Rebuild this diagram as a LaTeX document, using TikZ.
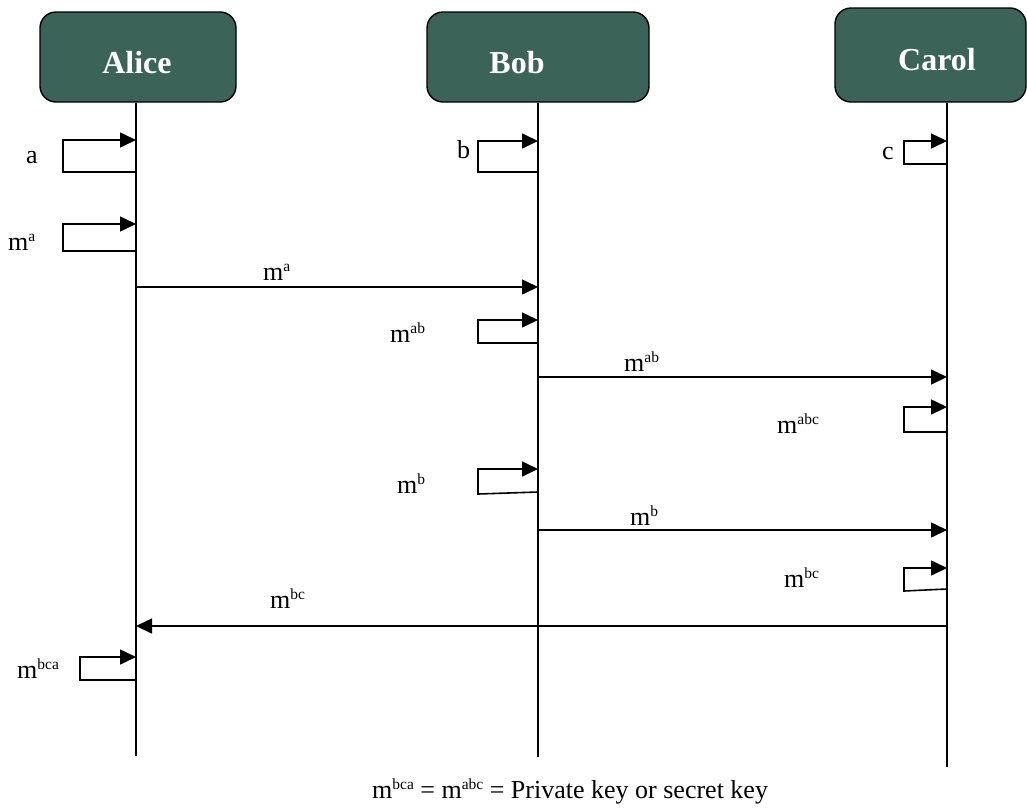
\documentclass[tikz,border=0pt]{standalone}
\usepackage{fontspec}
\setmainfont{Liberation Serif}
\usetikzlibrary{arrows.meta}
\definecolor{boxgreen}{HTML}{3B6358}
\newcommand\sps[1]{\raisebox{0.33em}{\fontsize{15.5}{15.5}\selectfont #1}}
\begin{document}
\begin{tikzpicture}[x=1pt,y=-1pt,
  actor/.style={draw=black, line width=1.4pt, fill=boxgreen, rounded corners=16pt, inner sep=0pt},
  actorname/.style={text=white, font=\fontsize{32}{32}\selectfont\bfseries, inner sep=0pt},
  life/.style={line width=1.6pt},
  msg/.style={line width=1.6pt, -{Triangle[length=16pt,width=15pt]}},
  lbl/.style={font=\fontsize{26}{26}\selectfont, inner sep=0pt, anchor=base west},
]
\useasboundingbox (0,0) rectangle (1027,809);

% actors
\node[actor, minimum width=196pt, minimum height=90pt] (alicebox) at (138,57) {};
\node[actorname] (alicename) at (137,63) {Alice};
\node[actor, minimum width=222pt, minimum height=90pt] (bobbox) at (538,57) {};
\node[actorname] (bobname) at (517,63) {Bob};
\node[actor, minimum width=191pt, minimum height=94pt] (carolbox) at (930.5,55) {};
\node[actorname] (carolname) at (937,60) {Carol};

% lifelines
\coordinate (aliceend) at (136,756);
\coordinate (bobend) at (538,757);
\coordinate (carolend) at (947,767);
\draw[life] (alicebox.south -| aliceend) -- (aliceend);
\draw[life] (bobbox.south -| bobend) -- (bobend);
\draw[life] (carolbox.south -| carolend) -- (carolend);

% self messages
\newcommand\selfmsg[6]{% name, x, top, bottom-right, left, bottom-left
  \coordinate (#1s) at (#2,#4);
  \coordinate (#1e) at (#2,#3);
  \draw[msg] (#1s) -- (#5,#6) -- (#5,#3) -- (#1e);}
\selfmsg{sa}{136}{140}{172}{63}{172}
\selfmsg{sma}{136}{224}{251}{63}{251}
\selfmsg{sb}{538}{141}{172}{478}{172}
\selfmsg{sc}{947}{141}{164}{904}{164}
\selfmsg{smab}{538}{320}{343}{478}{343}
\selfmsg{smabc}{947}{407}{432}{904}{432}
\selfmsg{smb}{538}{469}{492}{478}{494}
\selfmsg{smbc}{947}{568}{589}{904}{591}
\selfmsg{smbca}{136}{657}{680}{80}{680}

\node[lbl] (la) at (26,163) {a};
\node[lbl] (lma) at (8,250) {m\sps{a}};
\node[lbl] (lb) at (457,158) {b};
\node[lbl] (lc) at (882,159) {c};
\node[lbl] (lmab) at (390,342) {m\sps{ab}};
\node[lbl] (lmabc) at (777,433) {m\sps{abc}};
\node[lbl] (lmb) at (397,493) {m\sps{b}};
\node[lbl] (lmbc) at (784,587) {m\sps{bc}};
\node[lbl] (lmbca) at (17,678) {m\sps{bca}};

% messages between actors
\coordinate (m1s) at (136,287); \coordinate (m1e) at (538,287);
\coordinate (m2s) at (538,377); \coordinate (m2e) at (947,377);
\coordinate (m3s) at (538,530); \coordinate (m3e) at (947,530);
\coordinate (m4s) at (947,626); \coordinate (m4e) at (136,626);
\draw[msg] (m1s) -- (m1e);
\draw[msg] (m2s) -- (m2e);
\draw[msg] (m3s) -- (m3e);
\draw[msg] (m4s) -- (m4e);
\node[lbl] (l1) at (263,280) {m\sps{a}};
\node[lbl] (l2) at (624,371) {m\sps{ab}};
\node[lbl] (l3) at (630,525) {m\sps{b}};
\node[lbl] (l4) at (270,608) {m\sps{bc}};

% footnote
\node[lbl, anchor=base west] (note) at (372,798) {m\sps{bca} = m\sps{abc} = Private key or secret key};
\end{tikzpicture}
\end{document}
